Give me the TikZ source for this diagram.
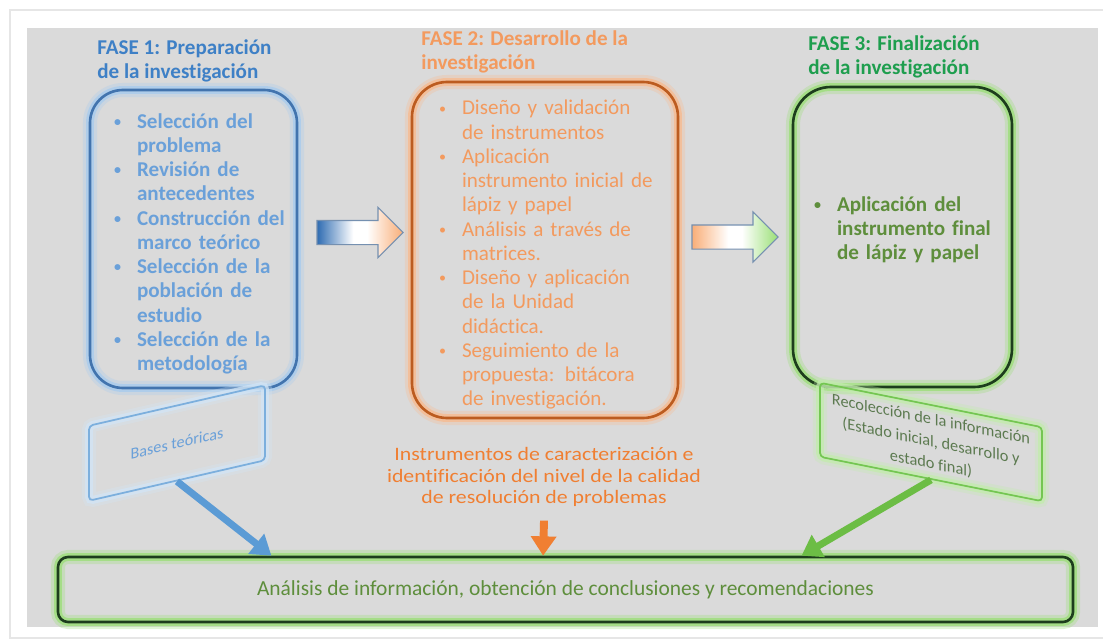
\documentclass[tikz,border=0pt]{standalone}
\usepackage{fontspec}
\setmainfont{Carlito}[Ligatures=NoCommon]
\usetikzlibrary{arrows.meta, positioning, calc, shapes.arrows}
\definecolor{fondo}{HTML}{DADADA}
\definecolor{marco}{HTML}{E6E6E6}
\definecolor{azul}{HTML}{3E80C6}
\definecolor{azulclaro}{HTML}{6AA0D9}
\definecolor{azulborde}{HTML}{4274AE}
\definecolor{azulbrillo}{HTML}{A6CBEE}
\definecolor{azulflecha}{HTML}{5B9BD5}
\definecolor{azulbloque}{HTML}{2F6CB2}
\definecolor{naranja}{HTML}{F39A5E}
\definecolor{naranjaborde}{HTML}{BC5C20}
\definecolor{naranjabrillo}{HTML}{F8BA8E}
\definecolor{naranjaflecha}{HTML}{F07F32}
\definecolor{naranjabloque}{HTML}{F9AE78}
\definecolor{verde}{HTML}{1E9E4E}
\definecolor{verdeoliva}{HTML}{5E8E3C}
\definecolor{verdeborde}{HTML}{1D3D1D}
\definecolor{verdebrillo}{HTML}{9ADF76}
\definecolor{verdeflecha}{HTML}{6CBD45}
\definecolor{verdenota}{HTML}{74C652}
\definecolor{verdetexto}{HTML}{5C7A50}
\definecolor{bordebloque}{HTML}{7590B0}
\pgfdeclarehorizontalshading{azulanaranja}{100bp}{color(0bp)=(azulbloque); color(25bp)=(azulbloque);
  color(46bp)=(white); color(54bp)=(white); color(75bp)=(naranjabloque); color(100bp)=(naranjabloque)}
\pgfdeclarehorizontalshading{naranjaaverde}{100bp}{color(0bp)=(naranjabloque); color(25bp)=(naranjabloque);
  color(46bp)=(white); color(54bp)=(white); color(75bp)=(verdebrillo); color(100bp)=(verdebrillo)}
\newdimen\pxu \pxu=0.02cm
\newcommand{\punto}[1]{\par\hangindent=24\pxu\hangafter=1\rightskip=-40\pxu plus 1fil\noindent
  \makebox[24\pxu][l]{\hspace{1\pxu}\raisebox{1pt}{\fontsize{8}{8}\selectfont\textbullet}}#1\par}
\tikzset{
  fase/.style={font=\fontsize{12}{13.8}\selectfont\bfseries, align=left, anchor=base west, inner sep=0pt},
  caja/.style={rounded corners=33\pxu, line width=1.5pt, align=left, inner xsep=0pt, font=\fontsize{12}{13.8}\selectfont},
  negrita/.style={font=\fontsize{12}{13.8}\selectfont\bfseries},
  brillo/.style={preaction={draw=#1, line width=8pt, draw opacity=0.3},
    preaction={draw=#1, line width=4.5pt, draw opacity=0.75}},
  bloque/.style={single arrow, draw=bordebloque, line width=0.6pt, minimum height=86\pxu,
    text height=23\pxu, text depth=0pt, text width=0pt, single arrow head extend=13\pxu, inner sep=0pt},
  nota/.style={draw, rounded corners=4\pxu, line width=1pt, align=center, inner sep=2pt},
  flecha/.style={line width=4pt, -{Triangle[length=11pt, width=14pt]}, draw=#1},
}

\begin{document}
\begin{tikzpicture}[x=0.02cm, y=-0.02cm]
  \useasboundingbox (0,0) rectangle (1103,642);
  \draw[marco, line width=1pt] (10,10) rectangle (1115,638);
  \fill[fondo] (27,28) rectangle (1098,627);

  % las tres fases
  \node[fase, text=azul] (t1) at (97,79) {FASE 1: Preparación\\de la investigación};
  \node[fase, text=naranja] (t2) at (421,70) {FASE 2: Desarrollo de la\\investigación};
  \node[fase, text=verde] (t3) at (808,75) {FASE 3: Finalización\\de la investigación};

  \node[caja, negrita, brillo=azulbrillo, draw=azulborde, text=azulclaro,
    minimum width=207\pxu, minimum height=298\pxu, text width=161\pxu] (c1) at (193.5,239) {%
    \punto{Selección del\newline problema}
    \punto{Revisión de\newline antecedentes}
    \punto{Construcción del\newline marco teórico}
    \punto{Selección de la\newline población de\newline estudio}
    \punto{Selección de la\newline metodología}};
  \node[caja, brillo=naranjabrillo, draw=naranjaborde, text=naranja, rounded corners=35\pxu,
    minimum width=266\pxu, minimum height=336\pxu, text width=214\pxu] (c2) at (545,250) {%
    \punto{Diseño y validación\newline de instrumentos}
    \punto{Aplicación\newline instrumento inicial de\newline lápiz y papel}
    \punto{Análisis a través de\newline matrices.}
    \punto{Diseño y aplicación\newline de la Unidad\newline didáctica.}
    \punto{Seguimiento de la\newline propuesta: bitácora\newline de investigación.}};
  \node[caja, negrita, brillo=verdebrillo, draw=verdeborde, text=verdeoliva, rounded corners=38\pxu,
    minimum width=219\pxu, minimum height=300\pxu, text width=179\pxu] (c3) at (902.5,237) {%
    \punto{Aplicación del\newline instrumento final\newline de lápiz y papel}
    \rule{0pt}{22\pxu}};

  \node[bloque, shading=azulanaranja] (b12) at (354,232.5) {};
  \node[bloque, shading=naranjaaverde] (b23) at (729,237) {};

  % notas inclinadas
  \node[nota, draw=azulflecha!80, brillo=azulbrillo!50, text=azulclaro, yslant=0.23, font=\fontsize{9.2}{10}\selectfont,
    minimum width=176\pxu, minimum height=75\pxu] (bases) at (177,443) {Bases teóricas};
  \node[nota, draw=verdenota, brillo=verdebrillo!60, text=verdetexto, yslant=-0.2, font=\fontsize{9.3}{12.6}\selectfont,
    minimum width=222\pxu, minimum height=74\pxu] (recol) at (931,442)
    {Recolección de la información\\(Estado inicial, desarrollo y\\estado final)};

  \node[text=naranjaflecha, align=center, font=\fontsize{10.8}{12}\selectfont, xscale=1.15, inner sep=2pt] (instr) at (544,477)
    {Instrumentos de caracterización e\\identificación del nivel de la calidad\\de resolución de problemas};

  \node[caja, brillo=verdebrillo, draw=verdeborde, text=verdeoliva, rounded corners=10\pxu, align=center,
    font=\fontsize{12.2}{14}\selectfont, minimum width=1015\pxu, minimum height=65\pxu] (final) at (565.5,589.5)
    {Análisis de información, obtención de conclusiones y recomendaciones};

  \draw[flecha=azulflecha] (bases.south) -- ($(final.north west)!0.211!(final.north east)$);
  \draw[flecha=naranjaflecha, line width=4.5pt] ([yshift=-6pt]instr.south) -- ($(final.north west)!0.478!(final.north east)$);
  \draw[flecha=verdeflecha] (recol.south) -- ($(final.north west)!0.732!(final.north east)$);
\end{tikzpicture}
\end{document}
